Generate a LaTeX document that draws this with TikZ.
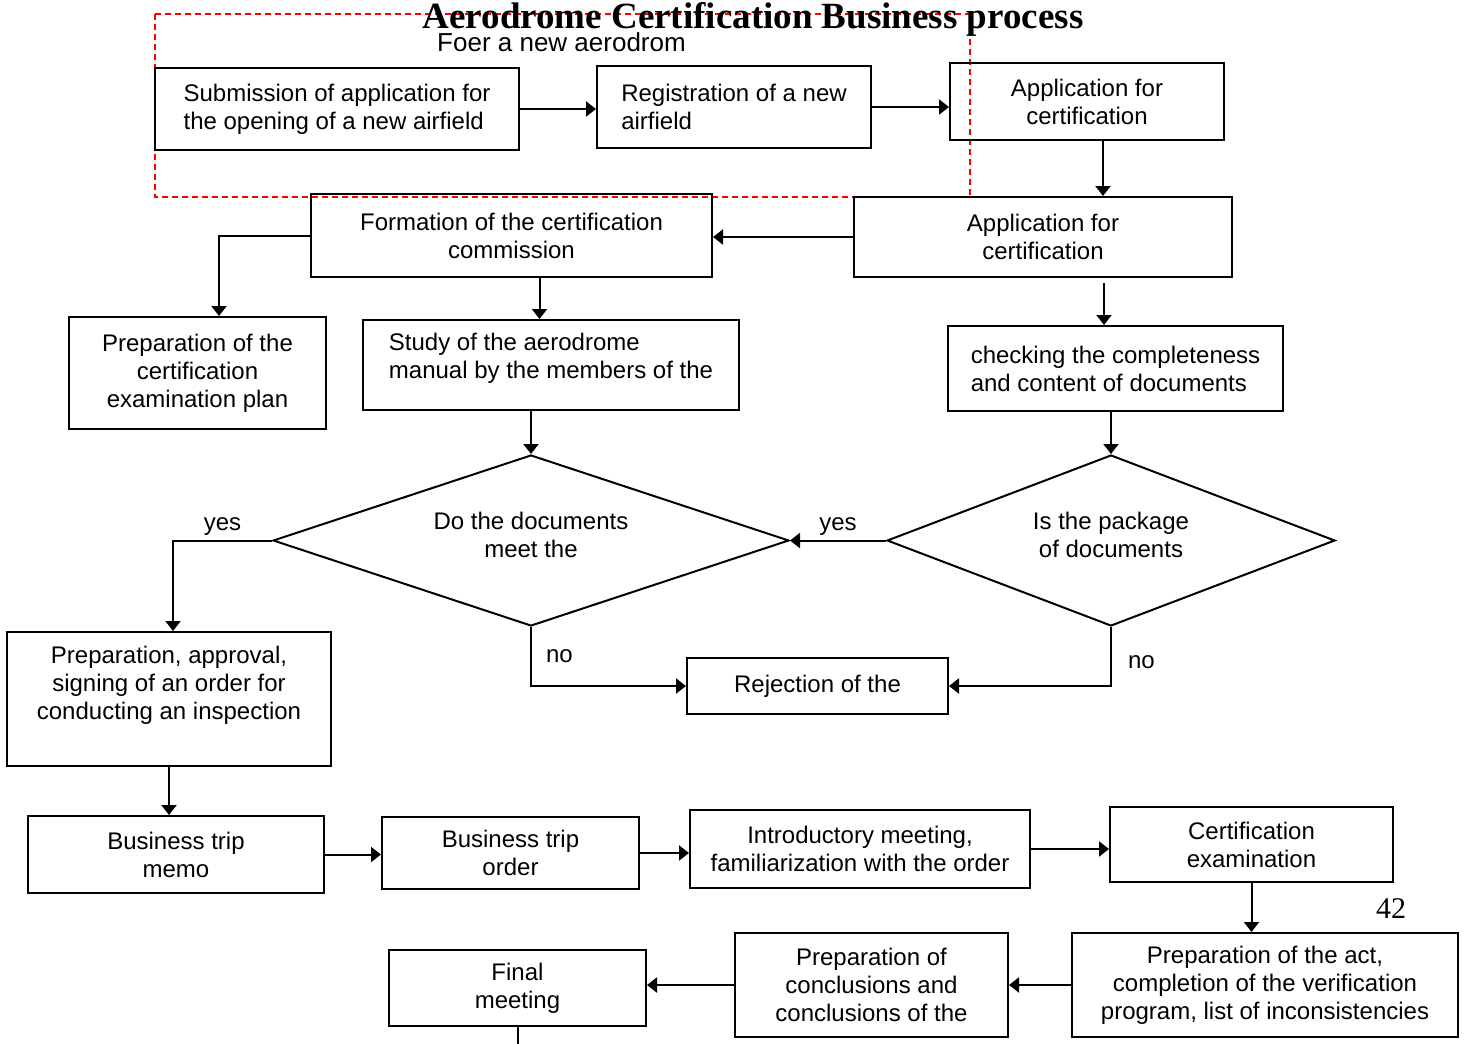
\documentclass[tikz,border=0pt]{standalone}
\usepackage{fontspec}
\setmainfont{Liberation Sans}
\newfontfamily\serifface{Liberation Serif}
\usetikzlibrary{arrows.meta,shapes.geometric}

\begin{document}
\begin{tikzpicture}[x=0.5pt, y=-0.5pt, >={Triangle[length=5pt,width=7.5pt]},
  box/.style={draw, line width=1pt, inner sep=2pt, align=center,
    font=\fontsize{12}{14}\selectfont},
  decision/.style={diamond, draw, line width=1pt, inner sep=0pt, align=center,
    font=\fontsize{12}{14}\selectfont},
  flow/.style={->, line width=1pt},
  lbl/.style={inner sep=2pt, font=\fontsize{12}{14}\selectfont}]
  \useasboundingbox (0,0) rectangle (1464,1044);

  % New aerodrome frame
  \draw[red, dashed, line width=0.75pt, dash pattern=on 3pt off 2pt] (155,14) rectangle (970,197);

  % Titles
  \node[anchor=base, font=\serifface\bfseries\fontsize{18.5}{22}\selectfont] (title) at (753,28) {Aerodrome Certification Business process};
  \node[anchor=base, font=\fontsize{13}{15}\selectfont] (frametitle) at (561.5,51) {Foer a new aerodrom};
  \node[anchor=base, font=\serifface\fontsize{15}{18}\selectfont] (page) at (1391,918) {42};

  % Opening of a new airfield
  \node[box, align=left, minimum width=182pt, minimum height=41pt] (sub) at (337,109) {Submission of application for\\the opening of a new airfield};
  \node[box, align=left, minimum width=137pt, minimum height=41pt] (reg) at (734,107) {Registration of a new\\airfield};
  \node[box, minimum width=137pt, minimum height=38.5pt] (app1) at (1087,101.5) {Application for\\certification};

  % Application and commission
  \node[box, minimum width=189pt, minimum height=40pt] (app2) at (1043,237) {Application for\\certification};
  \node[box, minimum width=200.5pt, minimum height=41.5pt] (form) at (511.5,235.5) {Formation of the certification\\commission};
  \node[box, minimum width=128.5pt, minimum height=56pt] (plan) at (197.5,373) {Preparation of the\\certification\\examination plan};
  \node[box, align=left, text depth=9pt, minimum width=188pt, minimum height=45pt] (study) at (551,365) {Study of the aerodrome\\manual by the members of the};
  \node[box, align=left, minimum width=167.5pt, minimum height=42.5pt] (check) at (1115.5,368.5) {checking the completeness\\and content of documents};

  % Decisions
  \node[decision, aspect=3, text depth=6pt, minimum width=258pt, minimum height=85.5pt] (docs) at (531,540.5) {Do the documents\\meet the};
  \node[decision, aspect=2.6, text depth=6pt, minimum width=224pt, minimum height=85.5pt] (pkg) at (1111,540.5) {Is the package\\of documents};
  \node[box, text depth=16.5pt, minimum width=162pt, minimum height=67pt] (order) at (169,699) {Preparation, approval,\\signing of an order for\\conducting an inspection};
  \node[box, minimum width=130.5pt, minimum height=28pt] (reject) at (817.5,686) {Rejection of the};

  % Inspection
  \node[box, minimum width=148pt, minimum height=38.5pt] (memo) at (176,854.5) {Business trip\\memo};
  \node[box, minimum width=128.5pt, minimum height=36pt] (torder) at (510.5,853) {Business trip\\order};
  \node[box, minimum width=170pt, minimum height=39pt] (intro) at (860,849) {Introductory meeting,\\familiarization with the order};
  \node[box, minimum width=141.5pt, minimum height=37.5pt] (exam) at (1251.5,844.5) {Certification\\examination};
  \node[box, minimum width=193pt, minimum height=52pt] (act) at (1265,985) {Preparation of the act,\\completion of the verification\\program, list of inconsistencies};
  \node[box, minimum width=136.5pt, minimum height=52pt] (concl) at (871.5,985) {Preparation of\\conclusions and\\conclusions of the};
  \node[box, minimum width=128.5pt, minimum height=38pt] (final) at (517.5,988) {Final\\meeting};
  \coordinate (bottom) at (517,1044);

  % Connectors
  \draw[flow] (sub.east) -- (sub.east -| reg.west);
  \draw[flow] (reg.east) -- (reg.east -| app1.west);
  \draw[flow] ([xshift=8pt]app1.south) -- ([xshift=8pt]app1.south |- app2.north);
  \draw[flow] (app2.west) -- (app2.west -| form.east);
  \draw[flow] (form.west) -| ([xshift=10.75pt]plan.north);
  \draw[flow] ([xshift=14pt]form.south) -- ([xshift=14pt]form.south |- study.north);
  \draw[flow] ([xshift=30.5pt,yshift=-2.5pt]app2.south) -- ([xshift=30.5pt]app2.south |- check.north);
  \draw[flow] ([xshift=-10pt]study.south) -- (docs.north);
  \draw[flow] (check.south -| pkg.north) -- (pkg.north);
  \draw[flow] (pkg.west) -- node[lbl, above] (yes2) {yes} (docs.east);
  \draw[flow] (docs.west) -| node[lbl, pos=0.25, above] (yes1) {yes} ([xshift=2pt]order.north);
  \draw[flow] (docs.south) |- node[lbl, pos=0.25, right, xshift=5pt] (no1) {no} (reject.west);
  \draw[flow] (pkg.south) |- node[lbl, pos=0.3, right, xshift=6pt] (no2) {no} (reject.east);
  \draw[flow] (order.south) -- (order.south |- memo.north);
  \draw[flow] (memo.east) -- (memo.east -| torder.west);
  \draw[flow] (torder.east) -- (torder.east -| intro.west);
  \draw[flow] (intro.east) -- (intro.east -| exam.west);
  \draw[flow] (exam.south) -- (exam.south |- act.north);
  \draw[flow] (act.west) -- (concl.east);
  \draw[flow] (concl.west) -- (concl.west -| final.east);
  \draw[line width=1pt] (final.south) -- (final.south |- bottom);
\end{tikzpicture}
\end{document}
